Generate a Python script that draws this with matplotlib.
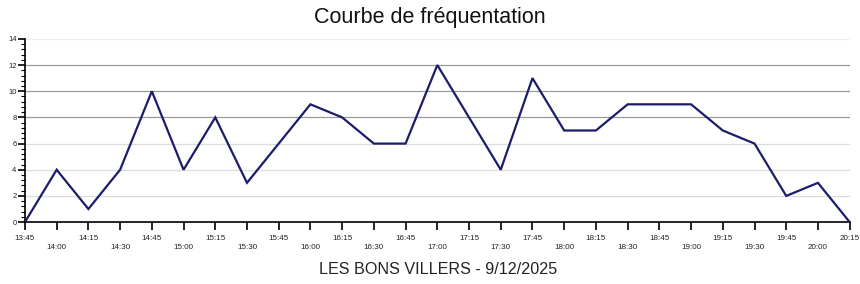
import matplotlib
matplotlib.use("Agg")
import matplotlib.pyplot as plt
from matplotlib.ticker import AutoMinorLocator

plt.rcParams['font.family'] = ['Liberation Sans', 'DejaVu Sans']

times = ["13:45", "14:00", "14:15", "14:30", "14:45", "15:00", "15:15", "15:30",
         "15:45", "16:00", "16:15", "16:30", "16:45", "17:00", "17:15", "17:30",
         "17:45", "18:00", "18:15", "18:30", "18:45", "19:00", "19:15", "19:30",
         "19:45", "20:00", "20:15"]
visitors = [0, 4, 1, 4, 10, 4, 8, 3, 6, 9, 8, 6, 6, 12, 8, 4, 11, 7, 7, 9, 9, 9, 7, 6, 2, 3, 0]
y_ticks = [0, 2, 4, 6, 8, 10, 12, 14]
title = "Courbe de fréquentation"
subtitle = "LES BONS VILLERS - 9/12/2025"

fig = plt.figure(figsize=(8.6, 2.84), dpi=100)
ax = fig.add_axes([0.029, 0.218, 0.959, 0.645])

x = list(range(len(times)))
grid_colors = {2: "#dcdcdc", 4: "#dcdcdc", 6: "#dcdcdc", 8: "#9a9a9a",
               10: "#9a9a9a", 12: "#9a9a9a", 14: "#eeeeee"}
for yv in y_ticks[1:]:
    ax.axhline(yv, color=grid_colors[yv], lw=0.9, zorder=1)

ax.plot(x, visitors, color="#1c1c6b", lw=1.6, zorder=3, solid_joinstyle="miter")

ax.set_xlim(0, len(times) - 1)
ax.set_ylim(0, 14)
ax.set_yticks(y_ticks)
ax.set_yticklabels([str(v) for v in y_ticks], fontsize=5.5, color="#222222")
ax.yaxis.set_minor_locator(AutoMinorLocator(5))
ax.tick_params(axis='y', which='major', length=5, width=1.2, pad=1, color="black")
ax.tick_params(axis='y', which='minor', length=3, width=0.8, color="black")

ax.set_xticks(x)
labels = [t if i % 2 == 0 else "\n" + t for i, t in enumerate(times)]
ax.set_xticklabels(labels, fontsize=5.8, color="#222222", linespacing=1.45)
ax.tick_params(axis='x', which='major', length=6, width=1.2, pad=3, color="black")

for s in ["top", "right"]:
    ax.spines[s].set_visible(False)
ax.spines["left"].set_linewidth(1.2)
ax.spines["bottom"].set_linewidth(1.2)

fig.text(0.5, 0.937, title, ha="center", va="center", fontsize=15.5, color="#111111")
fig.text(0.509, 0.052, subtitle, ha="center", va="center", fontsize=11.6, color="#222222")

fig.savefig("out.png", dpi=100)
